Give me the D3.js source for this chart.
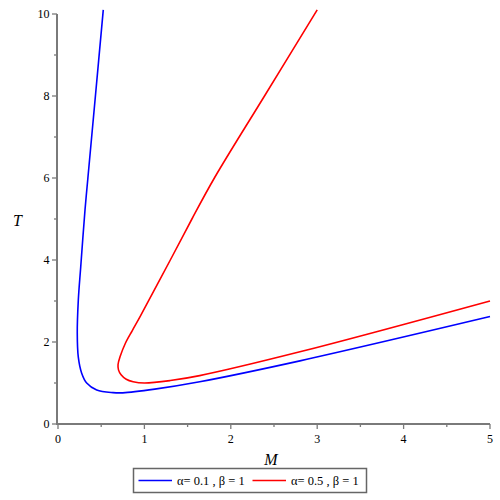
<!DOCTYPE html>
<html>
<head>
<meta charset="utf-8">
<script src="https://cdn.jsdelivr.net/npm/d3@7"></script>
<style>
  body { margin: 0; background: #fff; }
  text { font-family: "Liberation Serif", "DejaVu Serif", serif; }
</style>
</head>
<body>
<svg id="chart" width="500" height="500"></svg>
<script>
// *** Data (M, T pairs along each curve) ***

var blueM = [0.524, 0.433, 0.346, 0.3125, 0.263, 0.235, 0.223, 0.235, 0.274, 0.332, 0.448, 0.637, 0.75, 1.12, 1.64, 2.8, 5.0];
var blueT = [10.1, 8.0, 6.0, 5.22, 3.83, 3.02, 2.22, 1.63, 1.24, 1.0, 0.83, 0.765, 0.76, 0.85, 1.03, 1.54, 2.62];

var redM = [3.0, 2.39, 1.81, 1.55, 1.30, 0.95, 0.86, 0.78, 0.72, 0.695, 0.70, 0.73, 0.79, 0.87, 1.0, 1.3, 1.64, 2.8, 5.0];
var redT = [10.1, 8.0, 6.0, 5.0, 4.0, 2.62, 2.28, 1.97, 1.65, 1.45, 1.32, 1.2, 1.09, 1.03, 1.0, 1.06, 1.18, 1.76, 3.0];

var xTicks = [0, 1, 2, 3, 4, 5];
var yTicks = [0, 2, 4, 6, 8, 10];

var seriesNames = ["\u03b1= 0.1 , \u03b2 = 1", "\u03b1= 0.5 , \u03b2 = 1"];
var seriesColors = ["#0000ff", "#ff0000"];

var series = [
    {name: seriesNames[0], color: seriesColors[0], points: d3.zip(blueM, blueT)},
    {name: seriesNames[1], color: seriesColors[1], points: d3.zip(redM, redT)}
];

// *** Chart ***

var svg = d3.select("#chart");

var x = d3.scaleLinear().domain([0, 5]).range([58, 490]);
var y = d3.scaleLinear().domain([0, 10]).range([424, 14]);

var axisColor = "#7a7a7a";

// curves
svg.append("clipPath").attr("id", "plotClip")
    .append("rect")
    .attr("x", 58).attr("y", 9)
    .attr("width", 434).attr("height", 416);

var lineMaker = d3.line()
    .x(d => x(d[0]))
    .y(d => y(d[1]))
    .curve(d3.curveCatmullRom.alpha(0.5));

svg.append("g").attr("clip-path", "url(#plotClip)")
    .selectAll("path")
    .data(series).enter().append("path")
    .attr("fill", "none")
    .attr("stroke", d => d.color)
    .attr("stroke-width", 1.6)
    .attr("d", d => lineMaker(d.points));

// x axis with minor ticks
var xAxisG = svg.append("g").attr("transform", "translate(0,424)");
xAxisG.append("line")
    .attr("x1", 57).attr("x2", 490)
    .attr("stroke", axisColor).attr("stroke-width", 2);
xAxisG.selectAll(".minor")
    .data(d3.range(0.5, 5, 1)).enter().append("line")
    .attr("x1", d => x(d)).attr("x2", d => x(d))
    .attr("y1", 0).attr("y2", 3)
    .attr("stroke", axisColor).attr("stroke-width", 1.3);
xAxisG.selectAll(".major")
    .data(xTicks).enter().append("line")
    .attr("x1", d => x(d)).attr("x2", d => x(d))
    .attr("y1", 0).attr("y2", 5)
    .attr("stroke", axisColor).attr("stroke-width", 1.3);
xAxisG.selectAll("text")
    .data(xTicks).enter().append("text")
    .attr("x", d => x(d))
    .attr("y", 18.5)
    .attr("text-anchor", "middle")
    .attr("font-size", 12)
    .text(d => d);

// y axis with minor ticks
var yAxisG = svg.append("g").attr("transform", "translate(57,0)");
yAxisG.append("line")
    .attr("y1", 14).attr("y2", 425)
    .attr("stroke", axisColor).attr("stroke-width", 2);
yAxisG.selectAll(".minor")
    .data(d3.range(1, 10, 2)).enter().append("line")
    .attr("y1", d => y(d)).attr("y2", d => y(d))
    .attr("x1", 0).attr("x2", -3)
    .attr("stroke", axisColor).attr("stroke-width", 1.3);
yAxisG.selectAll(".major")
    .data(yTicks).enter().append("line")
    .attr("y1", d => y(d)).attr("y2", d => y(d))
    .attr("x1", 0).attr("x2", -5)
    .attr("stroke", axisColor).attr("stroke-width", 1.3);
yAxisG.selectAll("text")
    .data(yTicks).enter().append("text")
    .attr("x", -7.5)
    .attr("y", d => y(d) + 4)
    .attr("text-anchor", "end")
    .attr("font-size", 12)
    .text(d => d);

// axis titles
svg.append("text")
    .attr("x", 271).attr("y", 465)
    .attr("text-anchor", "middle")
    .attr("font-size", 16).attr("font-style", "italic")
    .text("M");
svg.append("text")
    .attr("x", 17.5).attr("y", 226)
    .attr("text-anchor", "middle")
    .attr("font-size", 16).attr("font-style", "italic")
    .text("T");

// legend
var legend = svg.append("g");
legend.append("rect")
    .attr("x", 133.5).attr("y", 468.5)
    .attr("width", 233).attr("height", 24)
    .attr("fill", "none")
    .attr("stroke", "#666").attr("stroke-width", 1.5);

var legendX = [138.5, 252.5];
var legendG = legend.selectAll(".item")
    .data(series).enter().append("g")
    .attr("transform", (d, i) => "translate(" + legendX[i] + ",480.5)");
legendG.append("line")
    .attr("x1", 0).attr("x2", 33.5)
    .attr("stroke", d => d.color).attr("stroke-width", 1.6);
legendG.append("text")
    .attr("x", 38.5).attr("y", 4.8)
    .attr("font-size", 12.5)
    .text(d => d.name);
</script>
</body>
</html>
